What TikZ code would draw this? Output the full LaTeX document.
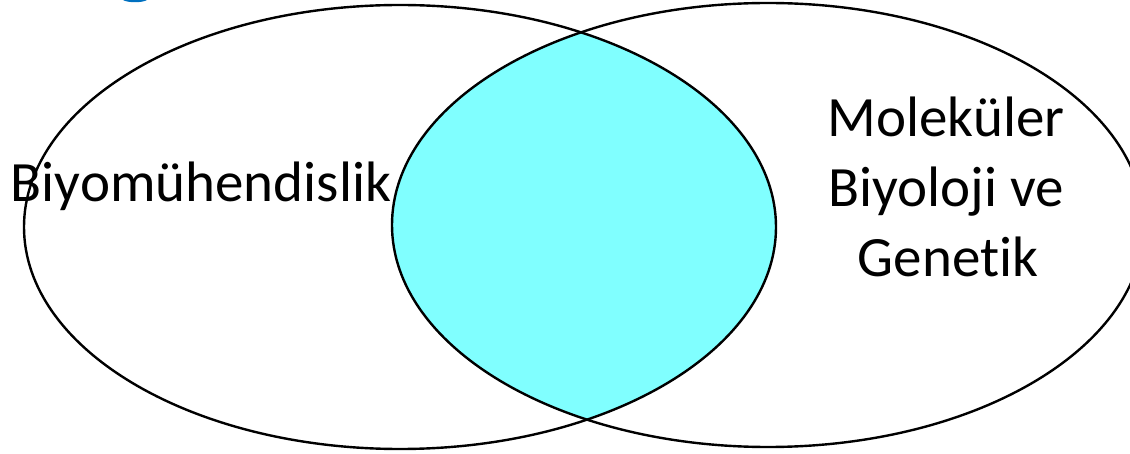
\documentclass[tikz,border=0pt]{standalone}
\usepackage{fontspec}
\setmainfont{Carlito}[Ligatures={NoCommon}]
\definecolor{venncyan}{RGB}{128,255,255}
\definecolor{titleblue}{RGB}{0,112,192}
\begin{document}
\begin{tikzpicture}[x=1pt,y=-1pt,
  setline/.style={draw=black,line width=2.4pt},
  lbl/.style={font=\fontsize{57pt}{70pt}\selectfont,inner sep=0pt,anchor=base}]
\useasboundingbox (0,0) rectangle (1130,454);
\coordinate (lc) at (400,227);
\coordinate (rc) at (768,225);
\begin{scope}
  \clip (lc) ellipse [x radius=376pt, y radius=222pt];
  \fill[venncyan] (rc) ellipse [x radius=376pt, y radius=222pt];
\end{scope}
\draw[setline] (lc) ellipse [x radius=376pt, y radius=222pt];
\begin{scope}
  \clip (0,0) rectangle (1130,454);
  \draw[setline] (rc) ellipse [x radius=376pt, y radius=222pt];
\end{scope}
\fill[titleblue] (123,0) .. controls (128,3) and (142,3) .. (147,0) -- cycle;
\node[lbl] (bio) at (201,202) {Biyomühendislik};
\node[lbl] (mol1) at (946,137) {Moleküler};
\node[lbl] (mol2) at (946,207) {Biyoloji ve};
\node[lbl] (mol3) at (948,277) {Genetik};
\end{tikzpicture}
\end{document}
